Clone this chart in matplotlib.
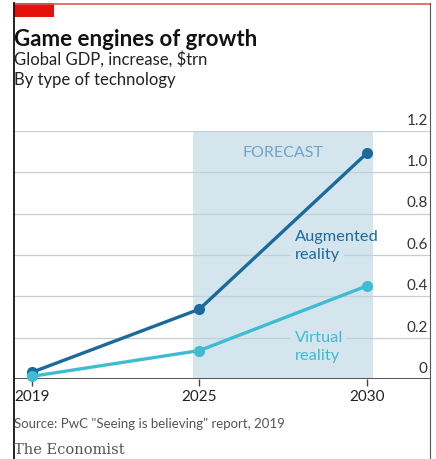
import matplotlib.pyplot as plt
from matplotlib.patches import Rectangle
from matplotlib.lines import Line2D
import matplotlib.transforms as mtransforms

plt.rcParams['font.family'] = ['Lato', 'DejaVu Sans']

# data
years = ['2019', '2025', '2030']
augmented = [0.033, 0.338, 1.092]
virtual = [0.0135, 0.138, 0.4505]
yticks = [0, 0.2, 0.4, 0.6, 0.8, 1.0, 1.2]
ytick_labels = ['0', '0.2', '0.4', '0.6', '0.8', '1.0', '1.2']

dark_blue = '#1b6a9c'
cyan = '#3ebcd2'
shade = '#d5e5ee'
grid_c = '#c3cfd6'

fig = plt.figure(figsize=(4.36, 4.59), dpi=100)
ax = fig.add_axes([0.032, 0.174, 0.954, 0.541])

xs = list(range(len(years)))
ax.set_xlim(-0.107, 2.376)
ax.set_ylim(0, 1.2)

# forecast shading
ax.axvspan(0.96, 2.036, ymin=0, ymax=1, color=shade, zorder=0, lw=0)
ax.text(1.5, 1.06, 'FORECAST', color='#6ea4c4', fontsize=11.5, ha='center', va='bottom')

# gridlines
for v in yticks[1:]:
    ax.axhline(v, color=grid_c, lw=0.9, zorder=1)
ax.axhline(0, color='#444444', lw=1.3, zorder=4)

ax.plot(xs, augmented, color=dark_blue, lw=2.4, marker='o', ms=7, zorder=5, clip_on=False)
ax.plot(xs, virtual, color=cyan, lw=2.4, marker='o', ms=7, zorder=6, clip_on=False)

# series labels; only the line crossing a gridline gets a mask
lbl = dict(fontsize=11.8, ha='left')
mask = dict(facecolor=shade, edgecolor='none', pad=3)
ax.text(1.57, 0.655, 'Augmented', color=dark_blue, va='bottom', zorder=3.5, **lbl)
ax.text(1.57, 0.6, 'reality', color=dark_blue, va='center', zorder=3, bbox=mask, **lbl)
ax.text(1.57, 0.2, 'Virtual', color=cyan, va='center', zorder=3, bbox=mask, **lbl)
ax.text(1.57, 0.145, 'reality', color=cyan, va='top', zorder=3.5, **lbl)

# right-hand y labels sitting above gridlines
trans = mtransforms.blended_transform_factory(ax.transAxes, ax.transData)
for v, lab in zip(yticks, ytick_labels):
    ax.text(0.995, v + 0.015, lab, transform=trans, ha='right', va='bottom',
            fontsize=11, color='#333333')

for s in ax.spines.values():
    s.set_visible(False)
ax.set_yticks([])
ax.set_xticks(xs)
ax.set_xticklabels(years, fontsize=11, color='#222222')
ax.tick_params(axis='x', length=5, width=1, color='#444444', pad=3)

# header and footer
fig.text(0.032, 0.915, 'Game engines of growth', fontsize=16, fontweight='bold', color='#111111', va='center')
fig.text(0.032, 0.870, 'Global GDP, increase, $trn', fontsize=12, color='#222222', va='center')
fig.text(0.032, 0.826, 'By type of technology', fontsize=12, color='#222222', va='center')
fig.text(0.032, 0.076, 'Source: PwC "Seeing is believing" report, 2019', fontsize=9.5, color='#555555', va='center')
fig.text(0.032, 0.020, 'The Economist', fontsize=10.5, color='#555555', va='center', family='DejaVu Serif')

# frame: red top bar, borders
fig.add_artist(Rectangle((0.032, 0.963), 0.092, 0.03, transform=fig.transFigure, color='#e3120b', lw=0))
fig.add_artist(Line2D([0.032, 0.986], [0.992, 0.992], transform=fig.transFigure, color='#e05a55', lw=1.2))
fig.add_artist(Line2D([0.032, 0.032], [0, 0.993], transform=fig.transFigure, color='#111111', lw=1.3))
fig.add_artist(Line2D([0.986, 0.986], [0, 0.993], transform=fig.transFigure, color='#555555', lw=0.8))

fig.savefig('out.png', dpi=100)
